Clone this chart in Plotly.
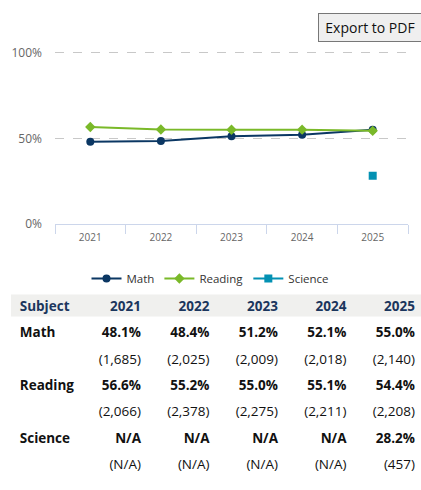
import plotly.graph_objects as go

years = ["2021", "2022", "2023", "2024", "2025"]
math_pct = [48.1, 48.4, 51.2, 52.1, 55.0]
reading_pct = [56.6, 55.2, 55.0, 55.1, 54.4]
science_pct = [None, None, None, None, 28.2]
math_n = [1685, 2025, 2009, 2018, 2140]
reading_n = [2066, 2378, 2275, 2211, 2208]
science_n = [None, None, None, None, 457]

subjects = ["Math", "Reading", "Science"]
colors = ["#0b3763", "#7ab929", "#0391b3"]
symbols = ["circle", "diamond", "square"]

FONT = "Open Sans"
W, H = 421, 490

fig = go.Figure()

# ---- line chart ----
for name, vals, col, sym in zip(subjects, [math_pct, reading_pct, science_pct], colors, symbols):
    fig.add_trace(go.Scatter(
        x=years, y=vals, name=name, mode="lines+markers",
        line=dict(color=col, width=2),
        marker=dict(symbol=sym, size=8, color=col),
        connectgaps=False,
    ))


def pct_txt(v):
    return "N/A" if v is None else "{:.1f}%".format(v)


def n_txt(n):
    return "(N/A)" if n is None else "({:,})".format(n)


# ---- data table, laid out on its own hidden axes ----
# x2: column index (right edge of each year column), y2: row index (0 = header)
col_idx = list(range(1, len(years) + 1))
SUBJ_X = -0.77
ROW0_PX, PITCH = 311, 27
tfont = dict(family=FONT, size=13.5, color="#111111")
hfont = dict(family=FONT, size=13.5, color="#1b365d", weight="bold")


def table_text(x, y, text, font, pos):
    fig.add_trace(go.Scatter(
        x=x, y=y, text=text, mode="text", textposition=pos, textfont=font,
        xaxis="x2", yaxis="y2", showlegend=False, hoverinfo="skip",
    ))


table_text([SUBJ_X], [0], ["Subject"], hfont, "middle right")
table_text(col_idx, [0] * len(years), years, hfont, "middle left")

for k, (s, pct, n) in enumerate(zip(subjects, [math_pct, reading_pct, science_pct],
                                     [math_n, reading_n, science_n])):
    r = 1 + 2 * k
    table_text([SUBJ_X], [r], [s], dict(tfont, weight="bold"), "middle right")
    table_text(col_idx, [r] * len(years), [pct_txt(v) for v in pct], dict(tfont, weight="bold"), "middle left")
    table_text(col_idx, [r + 1] * len(years), [n_txt(v) for v in n], tfont, "middle left")

fig.add_shape(
    type="rect", xref="paper", yref="y2", x0=11 / W, x1=1,
    y0=(292 - ROW0_PX) / PITCH, y1=(320 - ROW0_PX) / PITCH,
    fillcolor="#f0f0ee", line_width=0, layer="below",
)

fig.update_layout(
    xaxis=dict(
        domain=[55 / W, 408 / W], type="category", range=[-0.5, 4.5], anchor="y",
        showline=True, linecolor="#ccd6eb", linewidth=1,
        ticks="outside", tickson="boundaries", ticklen=9, tickcolor="#ccd6eb",
        ticklabelstandoff=4,
        showgrid=False, tickfont=dict(family=FONT, size=10, color="#666666"),
    ),
    yaxis=dict(
        domain=[1 - 225 / H, 1 - 45.5 / H], range=[0, 102], anchor="x",
        tickvals=[0, 50, 100], ticktext=["0%", "50%", "100%"],
        showgrid=True, gridcolor="#c8c8c8", griddash="dash", zeroline=False,
        ticklabelstandoff=12,
        tickfont=dict(family=FONT, size=12, color="#666666"),
    ),
    xaxis2=dict(domain=[0, 1], range=[-72.5 / 68.5, (W - 72.5) / 68.5], anchor="y2",
                visible=False, fixedrange=True),
    yaxis2=dict(domain=[max(0, 1 - (ROW0_PX + 6.5 * PITCH) / H), 1 - (ROW0_PX - 0.5 * PITCH) / H],
                range=[(H - ROW0_PX) / PITCH if ROW0_PX + 6.5 * PITCH > H else 6.5, -0.5],
                anchor="x2", visible=False, fixedrange=True),
)

fig.add_annotation(
    xref="paper", yref="paper", x=318 / W, y=1 - 8 / H,
    xanchor="left", yanchor="top", showarrow=False,
    text="&#8201;Export to PDF&nbsp;&nbsp;&nbsp;", font=dict(family=FONT, size=14, color="#111111"),
    bgcolor="#efefef", bordercolor="#777777", borderwidth=1, borderpad=4,
)

fig.update_layout(
    width=W, height=H,
    margin=dict(l=0, r=0, t=0, b=0),
    paper_bgcolor="white", plot_bgcolor="white",
    font=dict(family=FONT),
    legend=dict(
        orientation="h", x=0.5, xanchor="center", y=1 - 281 / H, yanchor="middle",
        font=dict(family=FONT, size=11.5, color="#333333"),
    ),
)

fig.write_html(
    "out.html",
    config={"displayModeBar": False},
    post_script="document.body.style.margin='0';document.body.style.overflow='hidden';",
)
